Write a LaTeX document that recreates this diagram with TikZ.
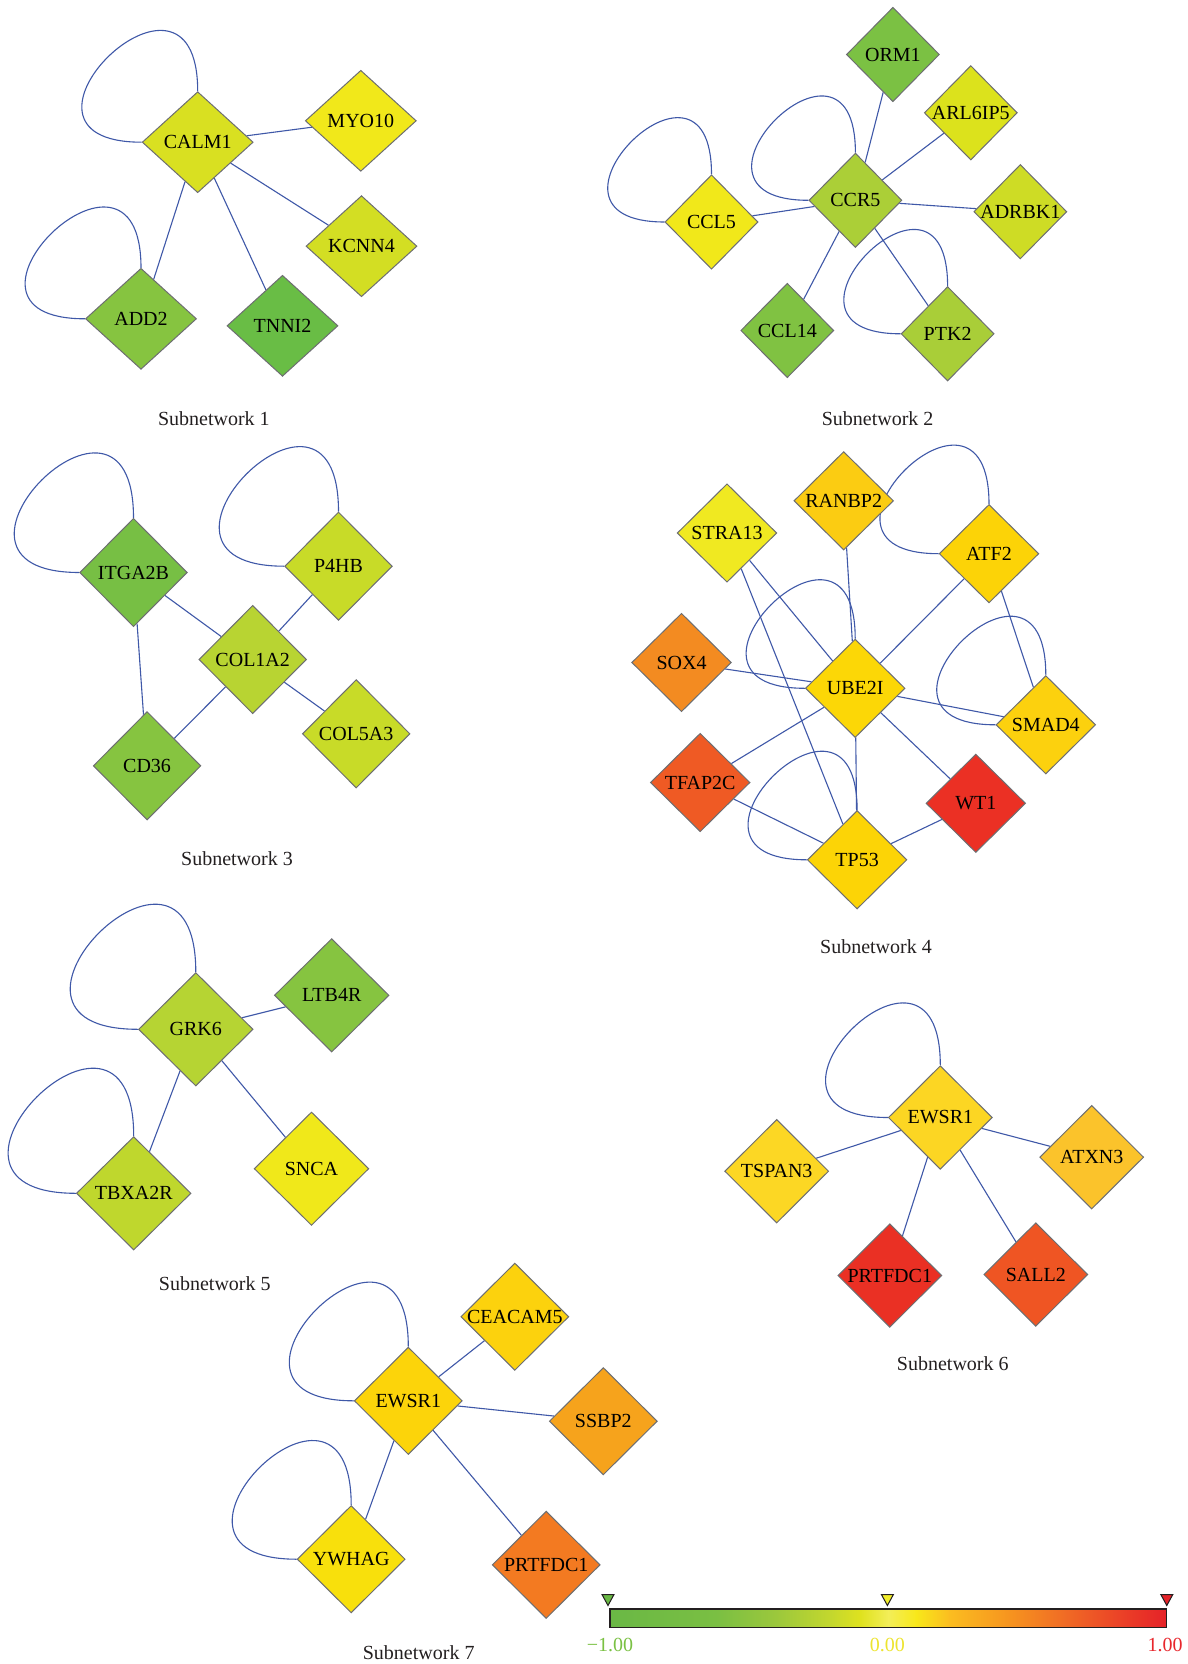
\documentclass[tikz,border=0pt]{standalone}
\usepackage{fontspec}
\setmainfont{Liberation Serif}
\usetikzlibrary{shapes.geometric,backgrounds}
\newcommand{\genefont}{\fontsize{20}{24}\selectfont}
\newcommand{\genenode}[5]{\node[gene,#1,fill=#4] (#2) at (#3) {\makebox[0pt]{#5}};}
\newcommand{\selfloop}[2]{\draw[edge] (#1.north) .. controls +(0pt,#2) and +(-#2,0pt) .. (#1.west);}
\definecolor{edgeblue}{HTML}{3F58A8}
\definecolor{bordergray}{HTML}{6D6E71}
\definecolor{capgray}{HTML}{231F20}
% subnetwork 1
\definecolor{cCALMa}{HTML}{D9E021}
\definecolor{cMYO}{HTML}{F1E81A}
\definecolor{cKCNN}{HTML}{D3DE23}
\definecolor{cADD}{HTML}{86C440}
\definecolor{cTNNI}{HTML}{69BD45}
% subnetwork 2
\definecolor{cORM}{HTML}{7BC143}
\definecolor{cARL}{HTML}{DCE21C}
\definecolor{cCCR}{HTML}{ABCF37}
\definecolor{cCCLf}{HTML}{F1E81A}
\definecolor{cADR}{HTML}{CEDC25}
\definecolor{cCCLo}{HTML}{80C242}
\definecolor{cPTK}{HTML}{A9CE38}
% subnetwork 3
\definecolor{cITG}{HTML}{77BF44}
\definecolor{cP4H}{HTML}{C8DB28}
\definecolor{cCOLa}{HTML}{B8D432}
\definecolor{cCOLb}{HTML}{C8DB28}
\definecolor{cCD}{HTML}{86C440}
% subnetwork 4
\definecolor{cRAN}{HTML}{FBCC12}
\definecolor{cSTR}{HTML}{F0E921}
\definecolor{cATF}{HTML}{FCD307}
\definecolor{cSOX}{HTML}{F38B21}
\definecolor{cUBE}{HTML}{FCD706}
\definecolor{cSMA}{HTML}{FCD10E}
\definecolor{cTFA}{HTML}{EF5A24}
\definecolor{cWT}{HTML}{EB3024}
\definecolor{cTP}{HTML}{FCD406}
% subnetwork 5
\definecolor{cGRK}{HTML}{B6D433}
\definecolor{cLTB}{HTML}{86C440}
\definecolor{cTBX}{HTML}{BFD72D}
\definecolor{cSNC}{HTML}{F0E81A}
% subnetwork 6
\definecolor{cEWSa}{HTML}{FCD623}
\definecolor{cTSP}{HTML}{FCD724}
\definecolor{cATX}{HTML}{FBC32B}
\definecolor{cPRTa}{HTML}{EA3024}
\definecolor{cSAL}{HTML}{EF5523}
% subnetwork 7
\definecolor{cCEA}{HTML}{FCD20D}
\definecolor{cEWSb}{HTML}{FCD40A}
\definecolor{cSSB}{HTML}{F6A31C}
\definecolor{cYWH}{HTML}{F8E00C}
\definecolor{cPRTb}{HTML}{F37A21}
% colour bar
\definecolor{g0}{HTML}{6AB845}
\definecolor{g1}{HTML}{7ABF43}
\definecolor{g2}{HTML}{9CC83C}
\definecolor{g3}{HTML}{C5D82D}
\definecolor{g4}{HTML}{DFE21F}
\definecolor{g5}{HTML}{F3EE58}
\definecolor{g6}{HTML}{F8E81A}
\definecolor{g7}{HTML}{FBBD20}
\definecolor{g8}{HTML}{F6931F}
\definecolor{g9}{HTML}{F06A25}
\definecolor{g10}{HTML}{EA3C27}
\definecolor{g11}{HTML}{E52228}
\definecolor{lblgreen}{HTML}{7AC143}
\definecolor{lblyellow}{HTML}{EDE42E}
\definecolor{lblred}{HTML}{E8262C}
\definecolor{trigreen}{HTML}{6AB945}
\definecolor{triyellow}{HTML}{F2EE2A}
\definecolor{trired}{HTML}{E52329}
\begin{document}
\begin{tikzpicture}[x=1pt,y=-1pt,
  gene/.style={diamond, draw=bordergray, line width=1pt, inner sep=0pt, font=\genefont, text=black},
  sA/.style={minimum width=111pt, minimum height=101pt},
  sB/.style={minimum width=93pt, minimum height=94.4pt},
  sC/.style={minimum width=107.6pt, minimum height=108.4pt},
  sD/.style={minimum width=99.6pt, minimum height=98.4pt},
  sE/.style={minimum width=114.6pt, minimum height=113.4pt},
  sF/.style={minimum width=104pt, minimum height=103.6pt},
  sG/.style={minimum width=108pt, minimum height=107.3pt},
  edge/.style={draw=edgeblue, line width=1.1pt},
  caption/.style={font=\genefont, text=capgray, inner sep=0pt},
  barlabel/.style={font=\genefont, inner sep=0pt},
  marker/.style={draw=capgray, line width=1pt, line join=miter}]
\useasboundingbox (0,0) rectangle (1187,1664);
\begin{scope}[on background layer]
  \fill[white] (0,0) rectangle (1187,1664);
\end{scope}

% ---------- Subnetwork 1
\genenode{sA}{CALMa}{197.7,142.2}{cCALMa}{CALM1}
\genenode{sA}{MYO}{360.8,120.8}{cMYO}{MYO10}
\genenode{sA}{KCNN}{361.5,246.2}{cKCNN}{KCNN4}
\genenode{sA}{ADD}{141,318.8}{cADD}{ADD2}
\genenode{sA}{TNNI}{282.5,325.8}{cTNNI}{TNNI2}
\node[caption] (capA) at (213.9,418.3) {Subnetwork 1};

% ---------- Subnetwork 2
\genenode{sB}{ORM}{892.9,54.5}{cORM}{ORM1}
\genenode{sB}{ARL}{970.8,112.8}{cARL}{ARL6IP5}
\genenode{sB}{CCR}{855.4,200.3}{cCCR}{CCR5}
\genenode{sB}{CCLf}{711.5,222}{cCCLf}{CCL5}
\genenode{sB}{ADR}{1020.3,211.7}{cADR}{ADRBK1}
\genenode{sB}{CCLo}{787.3,330.5}{cCCLo}{CCL14}
\genenode{sB}{PTK}{947.6,333.8}{cPTK}{PTK2}
\node[caption] (capB) at (877.6,418.3) {Subnetwork 2};

% ---------- Subnetwork 3
\genenode{sC}{ITG}{133.5,572.5}{cITG}{ITGA2B}
\genenode{sC}{P4H}{338.5,566.2}{cP4H}{P4HB}
\genenode{sC}{COLa}{252.7,659.5}{cCOLa}{COL1A2}
\genenode{sC}{COLb}{356.2,733.8}{cCOLb}{COL5A3}
\genenode{sC}{CD}{147.1,765.8}{cCD}{CD36}
\node[caption] (capC) at (237,858.3) {Subnetwork 3};

% ---------- Subnetwork 4
\genenode{sD}{RAN}{843.7,500.8}{cRAN}{RANBP2}
\genenode{sD}{STR}{727,533}{cSTR}{STRA13}
\genenode{sD}{ATF}{989,553.7}{cATF}{ATF2}
\genenode{sD}{SOX}{681.5,662.5}{cSOX}{SOX4}
\genenode{sD}{UBE}{855.2,688.3}{cUBE}{UBE2I}
\genenode{sD}{SMA}{1045.8,724.8}{cSMA}{SMAD4}
\genenode{sD}{TFA}{700.2,782.5}{cTFA}{TFAP2C}
\genenode{sD}{WT}{975.8,803.3}{cWT}{WT1}
\genenode{sD}{TP}{857.1,859.8}{cTP}{TP53}
\node[caption] (capD) at (876,947) {Subnetwork 4};

% ---------- Subnetwork 5
\genenode{sE}{GRK}{195.8,1029.3}{cGRK}{GRK6}
\genenode{sE}{LTB}{331.7,995.3}{cLTB}{LTB4R}
\genenode{sE}{TBX}{133.7,1193.3}{cTBX}{TBXA2R}
\genenode{sE}{SNC}{311.5,1168.7}{cSNC}{SNCA}
\node[caption] (capE) at (214.8,1284) {Subnetwork 5};

% ---------- Subnetwork 6
\genenode{sF}{EWSa}{940.3,1117.5}{cEWSa}{EWSR1}
\genenode{sF}{TSP}{776.7,1171.2}{cTSP}{TSPAN3}
\genenode{sF}{ATX}{1091.7,1157.2}{cATX}{ATXN3}
\genenode{sF}{PRTa}{889.8,1275.5}{cPRTa}{PRTFDC1}
\genenode{sF}{SAL}{1035.8,1274.5}{cSAL}{SALL2}
\node[caption] (capF) at (952.8,1364) {Subnetwork 6};

% ---------- Subnetwork 7
\genenode{sG}{CEA}{514.8,1316.7}{cCEA}{CEACAM5}
\genenode{sG}{EWSb}{408.3,1400.8}{cEWSb}{EWSR1}
\genenode{sG}{SSB}{603.3,1421.2}{cSSB}{SSBP2}
\genenode{sG}{YWH}{351.2,1559.2}{cYWH}{YWHAG}
\genenode{sG}{PRTb}{546.2,1564.8}{cPRTb}{PRTFDC1}
\node[caption] (capG) at (418.7,1653) {Subnetwork 7};

% ---------- connectors (under the nodes)
\begin{scope}[on background layer]
  % 1
  \draw[edge] (CALMa) -- (MYO);
  \draw[edge] (CALMa) -- (KCNN);
  \draw[edge] (CALMa) -- (ADD);
  \draw[edge] (CALMa) -- (TNNI);
  \selfloop{CALMa}{162pt}
  \selfloop{ADD}{162pt}
  % 2
  \draw[edge] (CCR) -- (ORM);
  \draw[edge] (CCR) -- (ARL);
  \draw[edge] (CCR) -- (ADR);
  \draw[edge] (CCR) -- (CCLf);
  \draw[edge] (CCR) -- (CCLo);
  \draw[edge] (CCR) -- (PTK);
  \selfloop{CCR}{151pt}
  \selfloop{CCLf}{151pt}
  \selfloop{PTK}{151pt}
  % 3
  \draw[edge] (ITG) -- (COLa);
  \draw[edge] (ITG) -- (CD);
  \draw[edge] (P4H) -- (COLa);
  \draw[edge] (COLa) -- (CD);
  \draw[edge] (COLa) -- (COLb);
  \selfloop{ITG}{173pt}
  \selfloop{P4H}{173pt}
  % 4
  \draw[edge] (RAN) -- (UBE);
  \draw[edge] (STR) -- (UBE);
  \draw[edge] (STR) -- (TP);
  \draw[edge] (ATF) -- (UBE);
  \draw[edge] (ATF) -- (SMA);
  \draw[edge] (SOX) -- (UBE);
  \draw[edge] (UBE) -- (SMA);
  \draw[edge] (TFA) -- (UBE);
  \draw[edge] (UBE) -- (WT);
  \draw[edge] (UBE) -- (TP);
  \draw[edge] (TFA) -- (TP);
  \draw[edge] (TP) -- (WT);
  \selfloop{ATF}{157pt}
  \selfloop{UBE}{157pt}
  \selfloop{SMA}{157pt}
  \selfloop{TP}{157pt}
  % 5
  \draw[edge] (GRK) -- (LTB);
  \draw[edge] (GRK) -- (TBX);
  \draw[edge] (GRK) -- (SNC);
  \selfloop{GRK}{181pt}
  \selfloop{TBX}{181pt}
  % 6
  \draw[edge] (EWSa) -- (TSP);
  \draw[edge] (EWSa) -- (ATX);
  \draw[edge] (EWSa) -- (PRTa);
  \draw[edge] (EWSa) -- (SAL);
  \selfloop{EWSa}{166pt}
  % 7
  \draw[edge] (EWSb) -- (CEA);
  \draw[edge] (EWSb) -- (SSB);
  \draw[edge] (EWSb) -- (YWH);
  \draw[edge] (EWSb) -- (PRTb);
  \selfloop{EWSb}{172pt}
  \selfloop{YWH}{172pt}
\end{scope}

% ---------- colour bar
\shade[left color=g0, right color=g1] (610,1609) rectangle (716.2,1627.3);
\shade[left color=g1, right color=g2] (715.7,1609) rectangle (777.4,1627.3);
\shade[left color=g2, right color=g3] (776.9,1609) rectangle (833.1,1627.3);
\shade[left color=g3, right color=g4] (832.6,1609) rectangle (860.9,1627.3);
\shade[left color=g4, right color=g5] (860.4,1609) rectangle (888.7,1627.3);
\shade[left color=g5, right color=g6] (888.2,1609) rectangle (916.5,1627.3);
\shade[left color=g6, right color=g7] (916,1609) rectangle (949.9,1627.3);
\shade[left color=g7, right color=g8] (949.4,1609) rectangle (1011.1,1627.3);
\shade[left color=g8, right color=g9] (1010.6,1609) rectangle (1066.7,1627.3);
\shade[left color=g9, right color=g10] (1066.2,1609) rectangle (1128,1627.3);
\shade[left color=g10, right color=g11] (1127.5,1609) rectangle (1166.4,1627.3);
\draw[draw=capgray, line width=1.2pt] (610,1609) rectangle (1166.4,1627.3);
\filldraw[marker, fill=trigreen] (602,1594.5) -- (614,1594.5) -- (608,1605.5) -- cycle;
\filldraw[marker, fill=triyellow] (881.4,1594.5) -- (893.4,1594.5) -- (887.4,1605.5) -- cycle;
\filldraw[marker, fill=trired] (1160.8,1594.5) -- (1172.8,1594.5) -- (1166.8,1605.5) -- cycle;
\node[barlabel, text=lblgreen] (lmin) at (610,1645) {−1.00};
\node[barlabel, text=lblyellow] (lmid) at (887.4,1645) {0.00};
\node[barlabel, text=lblred] (lmax) at (1165,1645) {1.00};
\end{tikzpicture}
\end{document}
